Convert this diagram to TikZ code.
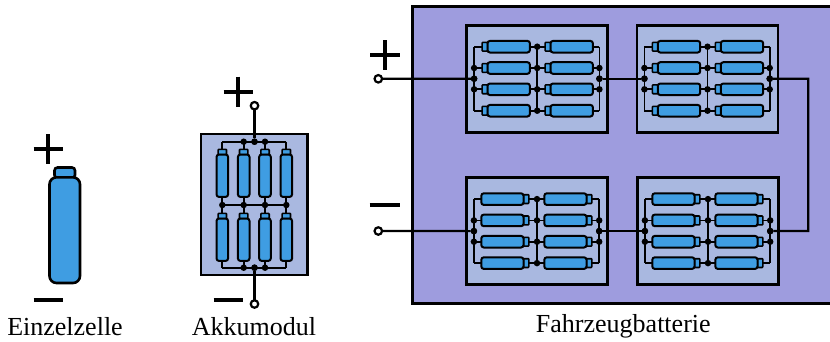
\documentclass[tikz,border=0pt]{standalone}
\usepackage{fontspec}
\setmainfont{Liberation Serif}
\definecolor{cellblue}{HTML}{3F9DE2}
\definecolor{modfill}{HTML}{A9B8E0}
\definecolor{batfill}{HTML}{9E9CDE}
\tikzset{
  bigcell/.style={draw=black,line width=2.6pt,fill=cellblue,rounded corners=7pt},
  bigcap/.style={draw=black,line width=2.6pt,fill=cellblue,rounded corners=3pt},
  cellbody/.style={draw=black,line width=2pt,fill=cellblue,rounded corners=2.5pt},
  cellcap/.style={draw=black,line width=1.6pt,fill=cellblue,rounded corners=0.8pt},
  modbox/.style={draw=black,line width=2.6pt,fill=modfill,inner sep=0pt,outer sep=0pt,anchor=north west},
  batbox/.style={draw=black,line width=3pt,fill=batfill},
  wire/.style={draw=black,line width=1.8pt},
  mainwire/.style={draw=black,line width=2.2pt},
  junction/.style={circle,fill=black,inner sep=0pt,outer sep=0pt,minimum size=6.5pt},
  terminal/.style={circle,draw=black,line width=2.2pt,fill=white,inner sep=0pt,outer sep=0pt,minimum size=7.5pt},
  sign/.style={line width=3.6pt,draw=black},
  caption/.style={font=\fontsize{26}{30}\selectfont,anchor=base,inner sep=0pt}
}
\newcommand{\drawcells}[3]{% #1 x, #2 y, #3 caps right?
  \begin{scope}[shift={(#1,#2)}]
    \foreach \yy in {21.4,42.7,64,85.4}{
      \foreach \xx in {0,63}{
        \ifnum#3=0
          \draw[cellcap] ({\xx+15.4},{\yy-4.4}) rectangle ({\xx+21},{\yy+4.4});
          \draw[cellbody] ({\xx+20.8},{\yy-5.8}) rectangle ({\xx+63.2},{\yy+5.8});
        \else
          \draw[cellcap] ({\xx+56.8},{\yy-4.4}) rectangle ({\xx+62.4},{\yy+4.4});
          \draw[cellbody] ({\xx+14.8},{\yy-5.8}) rectangle ({\xx+57},{\yy+5.8});
        \fi
      }
    }
  \end{scope}
}
\newcommand{\batpack}[4]{%
  \node[modbox,minimum width=141pt,minimum height=107pt] (#1) at (#2,#3) {};
  \begin{scope}[shift={(#2,#3)}]
    \coordinate (#1L) at (7.4,53.4);
    \coordinate (#1R) at (132.7,53.4);
    \foreach \r/\yy in {1/21.4,2/42.7,3/64,4/85.4}{
      \coordinate (#1l\r) at (7.4,\yy);
      \coordinate (#1m\r) at (70.5,\yy);
      \coordinate (#1r\r) at (132.7,\yy);
    }
  \end{scope}
  \foreach \r in {1,2,3,4}{\draw[wire] (#1l\r) -- (#1m\r) -- (#1r\r);}
  \draw[wire] (#1l1) -- (#1l4);
  \draw[wire] (#1m1) -- (#1m4);
  \draw[wire] (#1r1) -- (#1r4);
  \drawcells{#2}{#3}{#4}
  \foreach \r in {1,2,3,4}{\node[junction] (#1jm\r) at (#1m\r) {};}
  \node[junction] (#1jl2) at (#1l2) {};
  \node[junction] (#1jl3) at (#1l3) {};
  \node[junction] (#1jr2) at (#1r2) {};
  \node[junction] (#1jr3) at (#1r3) {};
  \node[junction] (#1jL) at (#1L) {};
  \node[junction] (#1jR) at (#1R) {};
}
\begin{document}
\begin{tikzpicture}[x=1pt,y=-1pt]
\useasboundingbox (0,0) rectangle (830,341);
\clip (0,0) rectangle (830,341);

% single cell
\draw[bigcap] (54.5,167.5) rectangle (75,178);
\draw[bigcell] (49.5,177.3) rectangle (80,283);
\draw[sign] (33.5,149) -- (63,149) (48,134) -- (48,164);
\draw[sign] (33.5,299.7) -- (63,299.7);
\node[caption] (lab1) at (65,335) {Einzelzelle};

% module
\node[modbox,minimum width=106.7pt,minimum height=141pt] (mod) at (201,134) {};
\node[terminal] (modp) at (254.5,105.7) {};
\node[terminal] (modm) at (254.5,304) {};
\node[junction] (modjt) at (254.5,141.7) {};
\node[junction] (modjb) at (254.5,267.7) {};
\draw[mainwire] (modp) -- (modjt);
\draw[mainwire] (modm) -- (modjb);
\foreach \c/\xx in {1/222.3,2/243.7,3/265,4/286.3}{
  \coordinate (t\c) at (\xx,141.7);
  \coordinate (m\c) at (\xx,205);
  \coordinate (b\c) at (\xx,267.7);
}
\draw[wire] (t1) -- (t4);
\draw[wire] (m1) -- (m4);
\draw[wire] (b1) -- (b4);
\foreach \c in {1,2,3,4}{
  \draw[wire] (t\c) -- (m\c) -- (b\c);
}
\foreach \xx in {222.3,243.7,265,286.3}{
  \foreach \yy in {149.3,213.3}{
    \draw[cellcap] ({\xx-4.2},\yy) rectangle ({\xx+4.2},{\yy+5.4});
    \draw[cellbody] ({\xx-5.8},{\yy+5.2}) rectangle ({\xx+5.8},{\yy+47.6});
  }
}
\foreach \c in {1,2,3,4}{\node[junction] (mj\c) at (m\c) {};}
\foreach \c in {2,3}{\node[junction] (tj\c) at (t\c) {}; \node[junction] (bj\c) at (b\c) {};}
\node[junction] at (modjt) {};
\node[junction] at (modjb) {};
\draw[sign] (223.5,91.7) -- (253,91.7) (238,76.7) -- (238,106.7);
\draw[sign] (213.5,299.7) -- (243,299.7);
\node[caption] (lab2) at (254,335) {Akkumodul};

% battery
\draw[batbox] (412.7,6.5) rectangle (836,303.7);
\batpack{pa}{466.7}{25.3}{0}
\batpack{pb}{637}{25.3}{0}
\batpack{pc}{466.5}{177.7}{1}
\batpack{pd}{637.5}{177.7}{1}
\node[terminal] (batp) at (378.3,78.8) {};
\node[terminal] (batm) at (378.3,231) {};
\coordinate (ct1) at (808.3,78.7);
\coordinate (ct2) at (808.3,231);
\draw[mainwire] (batp) -- (pajL);
\draw[mainwire] (pajR) -- (pbjL);
\draw[mainwire] (pbjR) -- (ct1) -- (ct2) -- (pdjR);
\draw[mainwire] (pdjL) -- (pcjR);
\draw[mainwire] (pcjL) -- (batm);
\foreach \n in {pa,pb,pc,pd}{\node[junction] at (\n jL) {}; \node[junction] at (\n jR) {};}
\draw[sign] (370,55) -- (400,55) (385,40) -- (385,70);
\draw[sign] (369.5,205) -- (400,205);
\node[caption] (lab3) at (623.3,332.3) {Fahrzeugbatterie};
\end{tikzpicture}
\end{document}
